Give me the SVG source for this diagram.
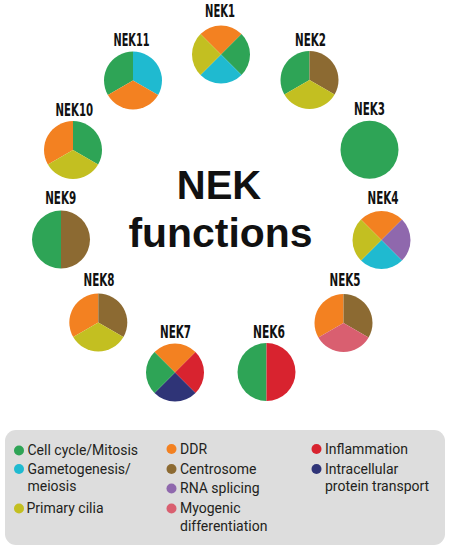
<svg xmlns="http://www.w3.org/2000/svg" width="450" height="550" viewBox="0 0 450 550">
<style>
.lbl{font-family:"DejaVu Sans Condensed","DejaVu Sans",sans-serif;font-weight:bold;font-size:18px;fill:#111;text-anchor:middle}
.title{font-family:"Liberation Sans",Arial,sans-serif;font-weight:bold;font-size:40px;fill:#111;text-anchor:middle}
.leg{font-family:Roboto,"Liberation Sans",sans-serif;font-size:14px;fill:#231f20}
.g{fill:#2ea456}.o{fill:#f38121}.c{fill:#1fbad0}.y{fill:#c3bf21}.b{fill:#8c6a32}.p{fill:#8f68ad}.k{fill:#d95f70}.r{fill:#d8232f}.n{fill:#2f3477}
</style>
<defs>
<path id="t1" d="M0,0 L0,-29 A29,29 0 0 1 25.11,14.5 Z"/>
<path id="t2" d="M0,0 L25.11,14.5 A29,29 0 0 1 -25.11,14.5 Z"/>
<path id="t3" d="M0,0 L-25.11,14.5 A29,29 0 0 1 0,-29 Z"/>
<path id="qt" d="M0,0 L-20.51,-20.51 A29,29 0 0 1 20.51,-20.51 Z"/>
<path id="qr" d="M0,0 L20.51,-20.51 A29,29 0 0 1 20.51,20.51 Z"/>
<path id="qb" d="M0,0 L20.51,20.51 A29,29 0 0 1 -20.51,20.51 Z"/>
<path id="ql" d="M0,0 L-20.51,20.51 A29,29 0 0 1 -20.51,-20.51 Z"/>
<path id="hr" d="M0,-29 A29,29 0 0 1 0,29 Z"/>
<path id="hl" d="M0,29 A29,29 0 0 1 0,-29 Z"/>
</defs>
<rect width="450" height="550" fill="#ffffff"/>
<g id="title">
<text class="title" x="219" y="199">NEK</text>
<text class="title" x="220.5" y="247" textLength="184" lengthAdjust="spacingAndGlyphs">functions</text>
</g>
<g id="connectors"/>
<g id="NEK1">
<text class="lbl" x="220" y="17" textLength="30" lengthAdjust="spacingAndGlyphs">NEK1</text>
<g transform="translate(221,54.5)"><use href="#qt" class="o"/><use href="#qr" class="g"/><use href="#qb" class="c"/><use href="#ql" class="y"/></g>
</g>
<g id="NEK2">
<text class="lbl" x="310.5" y="45.5" textLength="31" lengthAdjust="spacingAndGlyphs">NEK2</text>
<g transform="translate(309.5,80)"><use href="#t3" class="g"/><use href="#t1" class="b"/><use href="#t2" class="y"/></g>
</g>
<g id="NEK3">
<text class="lbl" x="369.5" y="115" textLength="31" lengthAdjust="spacingAndGlyphs">NEK3</text>
<circle cx="369.5" cy="149.7" r="29" class="g"/>
</g>
<g id="NEK4">
<text class="lbl" x="383" y="204" textLength="31" lengthAdjust="spacingAndGlyphs">NEK4</text>
<g transform="translate(381.5,240)"><use href="#qt" class="o"/><use href="#qr" class="p"/><use href="#qb" class="c"/><use href="#ql" class="y"/></g>
</g>
<g id="NEK5">
<text class="lbl" x="345" y="286" textLength="31" lengthAdjust="spacingAndGlyphs">NEK5</text>
<g transform="translate(343.5,323)"><use href="#t3" class="o"/><use href="#t1" class="b"/><use href="#t2" class="k"/></g>
</g>
<g id="NEK6">
<text class="lbl" x="269" y="337.5" textLength="32" lengthAdjust="spacingAndGlyphs">NEK6</text>
<g transform="translate(266.5,372)"><use href="#hl" class="g"/><use href="#hr" class="r"/></g>
</g>
<g id="NEK7">
<text class="lbl" x="175.5" y="338" textLength="31" lengthAdjust="spacingAndGlyphs">NEK7</text>
<g transform="translate(175,372.5)"><use href="#qt" class="o"/><use href="#qr" class="r"/><use href="#qb" class="n"/><use href="#ql" class="g"/></g>
</g>
<g id="NEK8">
<text class="lbl" x="99" y="286" textLength="31" lengthAdjust="spacingAndGlyphs">NEK8</text>
<g transform="translate(98.3,322.5)"><use href="#t3" class="o"/><use href="#t1" class="b"/><use href="#t2" class="y"/></g>
</g>
<g id="NEK9">
<text class="lbl" x="60.7" y="204" textLength="31" lengthAdjust="spacingAndGlyphs">NEK9</text>
<g transform="translate(61,239.5)"><use href="#hl" class="g"/><use href="#hr" class="b"/></g>
</g>
<g id="NEK10">
<text class="lbl" x="74.3" y="115.5" textLength="37.5" lengthAdjust="spacingAndGlyphs">NEK10</text>
<g transform="translate(73,150)"><use href="#t3" class="o"/><use href="#t1" class="g"/><use href="#t2" class="y"/></g>
</g>
<g id="NEK11">
<text class="lbl" x="131.5" y="46" textLength="36" lengthAdjust="spacingAndGlyphs">NEK11</text>
<g transform="translate(133,80.5)"><use href="#t3" class="g"/><use href="#t1" class="c"/><use href="#t2" class="o"/></g>
</g>
<g id="legend">
<rect x="5" y="430" width="440" height="115" rx="11" fill="#dddddd"/>
<circle cx="19" cy="450.5" r="5" class="g"/><text class="leg" x="27.5" y="455">Cell cycle/Mitosis</text>
<circle cx="19" cy="469" r="5" class="c"/><text class="leg" x="27.5" y="473.5">Gametogenesis/</text>
<text class="leg" x="27.5" y="491">meiosis</text>
<circle cx="19" cy="508.5" r="5" class="y"/><text class="leg" x="26.5" y="513">Primary cilia</text>
<circle cx="171.5" cy="449" r="5" class="o"/><text class="leg" x="180" y="453.5">DDR</text>
<circle cx="171.5" cy="469" r="5" class="b"/><text class="leg" x="180" y="473.5">Centrosome</text>
<circle cx="171.5" cy="488.5" r="5" class="p"/><text class="leg" x="180" y="493">RNA splicing</text>
<circle cx="171.5" cy="508.5" r="5" class="k"/><text class="leg" x="180" y="513">Myogenic</text>
<text class="leg" x="180" y="530.5">differentiation</text>
<circle cx="316.5" cy="449" r="5" class="r"/><text class="leg" x="325" y="453.5">Inflammation</text>
<circle cx="316.5" cy="469" r="5" class="n"/><text class="leg" x="325" y="473.5">Intracellular</text>
<text class="leg" x="325" y="491">protein transport</text>
</g>
</svg>
